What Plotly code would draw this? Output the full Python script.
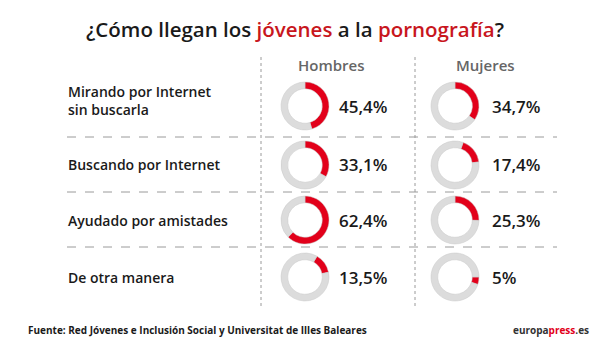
import plotly.graph_objects as go

# ---- data ----
categories = ["Mirando por Internet<br>sin buscarla", "Buscando por Internet",
              "Ayudado por amistades", "De otra manera"]
groups = ["Hombres", "Mujeres"]
hombres = [45.4, 33.1, 62.4, 13.5]
mujeres = [34.7, 17.4, 25.3, 5.0]
hombres_labels = ["45,4%", "33,1%", "62,4%", "13,5%"]
mujeres_labels = ["34,7%", "17,4%", "25,3%", "5%"]
source = "Fuente: Red Jóvenes e Inclusión Social y Universitat de Illes Baleares"

# ---- style ----
W, H = 600, 337
RED = "#e2001a"
GRAY = "#dcdcdc"
DARK = "#1a1a1a"
FONT = "Open Sans"
row_y = [106, 165, 220, 277]          # px from top
col_x = [305, 455]                    # donut centres px
rad = 24
rot_h = [0, 0, 0, 30]
rot_m = [0, 20, 0, 90]

def px(x):
    return x / W

def py(y):
    return 1 - y / H

fig = go.Figure()
for ci, (vals, rots) in enumerate([(hombres, rot_h), (mujeres, rot_m)]):
    for ri, v in enumerate(vals):
        cx, cy = col_x[ci], row_y[ri]
        fig.add_trace(go.Pie(
            values=[v, 100 - v], labels=["sí", "no"], sort=False,
            direction="clockwise", rotation=rots[ri], hole=0.72,
            marker=dict(colors=[RED, GRAY], line=dict(color="#c8c8c8", width=0.5)),
            textinfo="none", hoverinfo="skip", showlegend=False,
            domain=dict(x=[px(cx - rad), px(cx + rad)], y=[py(cy + rad), py(cy - rad)]),
        ))

ann = []
# title
ann.append(dict(x=px(295), y=py(29), xref="paper", yref="paper", showarrow=False,
                xanchor="center", yanchor="middle",
                text="¿Cómo llegan los <span style='color:#c8161d'>jóvenes</span> a la "
                     "<span style='color:#c8161d'>pornografía</span>?",
                font=dict(family=FONT, size=20.5, color=DARK, weight=600)))
# column headers
for gx, g in zip([331, 485], groups):
    ann.append(dict(x=px(gx), y=py(65), xref="paper", yref="paper", showarrow=False,
                    xanchor="center", yanchor="middle", text=g,
                    font=dict(family=FONT, size=15, color="#666666", weight=600)))
# row labels
for ry, c in zip(row_y, categories):
    ann.append(dict(x=px(66), y=py(ry - 6 if "<br>" in c else ry), xref="paper", yref="paper",
                    showarrow=False, xanchor="left", yanchor="middle", align="left",
                    text=c, font=dict(family=FONT, size=14, color=DARK, weight=600)))
# percentage labels
for lx, labels in zip([337, 490], [hombres_labels, mujeres_labels]):
    for ry, t in zip(row_y, labels):
        ann.append(dict(x=px(lx), y=py(ry), xref="paper", yref="paper", showarrow=False,
                        xanchor="left", yanchor="middle", text=t,
                        font=dict(family=FONT, size=17, color=DARK, weight=600)))
# footer
ann.append(dict(x=px(26), y=py(330), xref="paper", yref="paper", showarrow=False,
                xanchor="left", yanchor="middle", text=source,
                font=dict(family=FONT, size=10, color=DARK, weight=700)))
ann.append(dict(x=px(591), y=py(330), xref="paper", yref="paper", showarrow=False,
                xanchor="right", yanchor="middle",
                text="europa<span style='color:#e2001a'>press</span>.es",
                font=dict(family=FONT, size=10, color="#333333", weight=700)))

shapes = []
for hy in [137, 192, 247]:
    shapes.append(dict(type="line", xref="paper", yref="paper",
                       x0=px(67), x1=px(557), y0=py(hy), y1=py(hy),
                       line=dict(color="#9a9a9a", width=1, dash="dash")))
for vx in [261, 415]:
    shapes.append(dict(type="line", xref="paper", yref="paper",
                       x0=px(vx), x1=px(vx), y0=py(57), y1=py(308),
                       line=dict(color="#9a9a9a", width=1, dash="dot")))

fig.update_layout(width=W, height=H, margin=dict(l=0, r=0, t=0, b=0),
                  paper_bgcolor="white", plot_bgcolor="white",
                  annotations=ann, shapes=shapes)
fig.write_html("out.html")
